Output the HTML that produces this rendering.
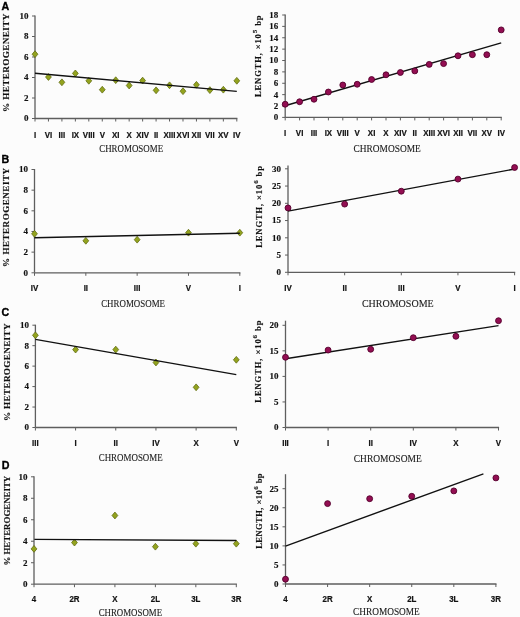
<!DOCTYPE html><html><head><meta charset="utf-8"><style>html,body{margin:0;padding:0;background:#fcfcfc;}svg{display:block;will-change:transform;filter:blur(0.3px);}</style></head><body>
<svg width="520" height="617" viewBox="0 0 520 617">
<rect width="520" height="617" fill="#fcfcfc"/>
<g><line x1="35" y1="15.5" x2="35" y2="118.5" stroke="#5e5e5e" stroke-width="1.3"/><line x1="35" y1="118.5" x2="237.4" y2="118.5" stroke="#5e5e5e" stroke-width="1.3"/><line x1="32" y1="118.5" x2="35" y2="118.5" stroke="#5e5e5e" stroke-width="1"/><text x="28.5" y="121.4" class="yt">0</text><line x1="32" y1="98" x2="35" y2="98" stroke="#5e5e5e" stroke-width="1"/><text x="28.5" y="100.9" class="yt">2</text><line x1="32" y1="77.5" x2="35" y2="77.5" stroke="#5e5e5e" stroke-width="1"/><text x="28.5" y="80.4" class="yt">4</text><line x1="32" y1="57" x2="35" y2="57" stroke="#5e5e5e" stroke-width="1"/><text x="28.5" y="59.9" class="yt">6</text><line x1="32" y1="36.5" x2="35" y2="36.5" stroke="#5e5e5e" stroke-width="1"/><text x="28.5" y="39.4" class="yt">8</text><line x1="32" y1="16" x2="35" y2="16" stroke="#5e5e5e" stroke-width="1"/><text x="28.5" y="18.9" class="yt">10</text><line x1="35" y1="118.5" x2="35" y2="121.5" stroke="#5e5e5e" stroke-width="1"/><text transform="translate(35 137.6) scale(0.89 1)" class="xt">I</text><line x1="48.45" y1="118.5" x2="48.45" y2="121.5" stroke="#5e5e5e" stroke-width="1"/><text transform="translate(48.45 137.6) scale(0.89 1)" class="xt">VI</text><line x1="61.91" y1="118.5" x2="61.91" y2="121.5" stroke="#5e5e5e" stroke-width="1"/><text transform="translate(61.91 137.6) scale(0.89 1)" class="xt">III</text><line x1="75.36" y1="118.5" x2="75.36" y2="121.5" stroke="#5e5e5e" stroke-width="1"/><text transform="translate(75.36 137.6) scale(0.89 1)" class="xt">IX</text><line x1="88.81" y1="118.5" x2="88.81" y2="121.5" stroke="#5e5e5e" stroke-width="1"/><text transform="translate(88.81 137.6) scale(0.89 1)" class="xt">VIII</text><line x1="102.27" y1="118.5" x2="102.27" y2="121.5" stroke="#5e5e5e" stroke-width="1"/><text transform="translate(102.27 137.6) scale(0.89 1)" class="xt">V</text><line x1="115.72" y1="118.5" x2="115.72" y2="121.5" stroke="#5e5e5e" stroke-width="1"/><text transform="translate(115.72 137.6) scale(0.89 1)" class="xt">XI</text><line x1="129.17" y1="118.5" x2="129.17" y2="121.5" stroke="#5e5e5e" stroke-width="1"/><text transform="translate(129.17 137.6) scale(0.89 1)" class="xt">X</text><line x1="142.63" y1="118.5" x2="142.63" y2="121.5" stroke="#5e5e5e" stroke-width="1"/><text transform="translate(142.63 137.6) scale(0.89 1)" class="xt">XIV</text><line x1="156.08" y1="118.5" x2="156.08" y2="121.5" stroke="#5e5e5e" stroke-width="1"/><text transform="translate(156.08 137.6) scale(0.89 1)" class="xt">II</text><line x1="169.53" y1="118.5" x2="169.53" y2="121.5" stroke="#5e5e5e" stroke-width="1"/><text transform="translate(169.53 137.6) scale(0.89 1)" class="xt">XIII</text><line x1="182.99" y1="118.5" x2="182.99" y2="121.5" stroke="#5e5e5e" stroke-width="1"/><text transform="translate(182.99 137.6) scale(0.89 1)" class="xt">XVI</text><line x1="196.44" y1="118.5" x2="196.44" y2="121.5" stroke="#5e5e5e" stroke-width="1"/><text transform="translate(196.44 137.6) scale(0.89 1)" class="xt">XII</text><line x1="209.89" y1="118.5" x2="209.89" y2="121.5" stroke="#5e5e5e" stroke-width="1"/><text transform="translate(209.89 137.6) scale(0.89 1)" class="xt">VII</text><line x1="223.35" y1="118.5" x2="223.35" y2="121.5" stroke="#5e5e5e" stroke-width="1"/><text transform="translate(223.35 137.6) scale(0.89 1)" class="xt">XV</text><line x1="236.8" y1="118.5" x2="236.8" y2="121.5" stroke="#5e5e5e" stroke-width="1"/><text transform="translate(236.8 137.6) scale(0.89 1)" class="xt">IV</text><path d="M35 50.8L37.9 54.2L35 57.6L32.1 54.2Z" fill="#93a31e" stroke="#626d12" stroke-width="0.8"/><path d="M48.45 73.6L51.35 77L48.45 80.4L45.55 77Z" fill="#93a31e" stroke="#626d12" stroke-width="0.8"/><path d="M61.91 78.9L64.81 82.3L61.91 85.7L59.01 82.3Z" fill="#93a31e" stroke="#626d12" stroke-width="0.8"/><path d="M75.36 70L78.26 73.4L75.36 76.8L72.46 73.4Z" fill="#93a31e" stroke="#626d12" stroke-width="0.8"/><path d="M88.81 77.4L91.71 80.8L88.81 84.2L85.91 80.8Z" fill="#93a31e" stroke="#626d12" stroke-width="0.8"/><path d="M102.27 86.3L105.17 89.7L102.27 93.1L99.37 89.7Z" fill="#93a31e" stroke="#626d12" stroke-width="0.8"/><path d="M115.72 76.8L118.62 80.2L115.72 83.6L112.82 80.2Z" fill="#93a31e" stroke="#626d12" stroke-width="0.8"/><path d="M129.17 82.1L132.07 85.5L129.17 88.9L126.27 85.5Z" fill="#93a31e" stroke="#626d12" stroke-width="0.8"/><path d="M142.63 77.2L145.53 80.6L142.63 84L139.73 80.6Z" fill="#93a31e" stroke="#626d12" stroke-width="0.8"/><path d="M156.08 86.9L158.98 90.3L156.08 93.7L153.18 90.3Z" fill="#93a31e" stroke="#626d12" stroke-width="0.8"/><path d="M169.53 81.9L172.43 85.3L169.53 88.7L166.63 85.3Z" fill="#93a31e" stroke="#626d12" stroke-width="0.8"/><path d="M182.99 87.8L185.89 91.2L182.99 94.6L180.09 91.2Z" fill="#93a31e" stroke="#626d12" stroke-width="0.8"/><path d="M196.44 81.4L199.34 84.8L196.44 88.2L193.54 84.8Z" fill="#93a31e" stroke="#626d12" stroke-width="0.8"/><path d="M209.89 86.7L212.79 90.1L209.89 93.5L206.99 90.1Z" fill="#93a31e" stroke="#626d12" stroke-width="0.8"/><path d="M223.35 86.3L226.25 89.7L223.35 93.1L220.45 89.7Z" fill="#93a31e" stroke="#626d12" stroke-width="0.8"/><path d="M236.8 77.4L239.7 80.8L236.8 84.2L233.9 80.8Z" fill="#93a31e" stroke="#626d12" stroke-width="0.8"/><line x1="35" y1="73.2" x2="236.8" y2="91.4" stroke="#111" stroke-width="1.4"/><text x="99.2" y="152.2" class="ch" textLength="63.9" lengthAdjust="spacingAndGlyphs">CHROMOSOME</text><text transform="translate(9.2,111.9) rotate(-90)" class="yl" style="font-size:9.2px" textLength="98.2" lengthAdjust="spacing">% HETEROGENEITY</text><text x="1.6" y="9.7" class="lt">A</text></g>
<g><line x1="285.2" y1="14.6" x2="285.2" y2="117.4" stroke="#5e5e5e" stroke-width="1.3"/><line x1="285.2" y1="117.4" x2="501.8" y2="117.4" stroke="#5e5e5e" stroke-width="1.3"/><line x1="282.2" y1="117.4" x2="285.2" y2="117.4" stroke="#5e5e5e" stroke-width="1"/><text x="278.2" y="120.3" class="yt">0</text><line x1="282.2" y1="106.02" x2="285.2" y2="106.02" stroke="#5e5e5e" stroke-width="1"/><text x="278.2" y="108.92" class="yt">2</text><line x1="282.2" y1="94.64" x2="285.2" y2="94.64" stroke="#5e5e5e" stroke-width="1"/><text x="278.2" y="97.54" class="yt">4</text><line x1="282.2" y1="83.27" x2="285.2" y2="83.27" stroke="#5e5e5e" stroke-width="1"/><text x="278.2" y="86.17" class="yt">6</text><line x1="282.2" y1="71.89" x2="285.2" y2="71.89" stroke="#5e5e5e" stroke-width="1"/><text x="278.2" y="74.79" class="yt">8</text><line x1="282.2" y1="60.51" x2="285.2" y2="60.51" stroke="#5e5e5e" stroke-width="1"/><text x="278.2" y="63.41" class="yt">10</text><line x1="282.2" y1="49.13" x2="285.2" y2="49.13" stroke="#5e5e5e" stroke-width="1"/><text x="278.2" y="52.03" class="yt">12</text><line x1="282.2" y1="37.76" x2="285.2" y2="37.76" stroke="#5e5e5e" stroke-width="1"/><text x="278.2" y="40.66" class="yt">14</text><line x1="282.2" y1="26.38" x2="285.2" y2="26.38" stroke="#5e5e5e" stroke-width="1"/><text x="278.2" y="29.28" class="yt">16</text><line x1="282.2" y1="15" x2="285.2" y2="15" stroke="#5e5e5e" stroke-width="1"/><text x="278.2" y="17.9" class="yt">18</text><line x1="285.2" y1="117.4" x2="285.2" y2="120.4" stroke="#5e5e5e" stroke-width="1"/><text transform="translate(285.2 135.7) scale(0.89 1)" class="xt">I</text><line x1="299.6" y1="117.4" x2="299.6" y2="120.4" stroke="#5e5e5e" stroke-width="1"/><text transform="translate(299.6 135.7) scale(0.89 1)" class="xt">VI</text><line x1="314" y1="117.4" x2="314" y2="120.4" stroke="#5e5e5e" stroke-width="1"/><text transform="translate(314 135.7) scale(0.89 1)" class="xt">III</text><line x1="328.4" y1="117.4" x2="328.4" y2="120.4" stroke="#5e5e5e" stroke-width="1"/><text transform="translate(328.4 135.7) scale(0.89 1)" class="xt">IX</text><line x1="342.8" y1="117.4" x2="342.8" y2="120.4" stroke="#5e5e5e" stroke-width="1"/><text transform="translate(342.8 135.7) scale(0.89 1)" class="xt">VIII</text><line x1="357.2" y1="117.4" x2="357.2" y2="120.4" stroke="#5e5e5e" stroke-width="1"/><text transform="translate(357.2 135.7) scale(0.89 1)" class="xt">V</text><line x1="371.6" y1="117.4" x2="371.6" y2="120.4" stroke="#5e5e5e" stroke-width="1"/><text transform="translate(371.6 135.7) scale(0.89 1)" class="xt">XI</text><line x1="386" y1="117.4" x2="386" y2="120.4" stroke="#5e5e5e" stroke-width="1"/><text transform="translate(386 135.7) scale(0.89 1)" class="xt">X</text><line x1="400.4" y1="117.4" x2="400.4" y2="120.4" stroke="#5e5e5e" stroke-width="1"/><text transform="translate(400.4 135.7) scale(0.89 1)" class="xt">XIV</text><line x1="414.8" y1="117.4" x2="414.8" y2="120.4" stroke="#5e5e5e" stroke-width="1"/><text transform="translate(414.8 135.7) scale(0.89 1)" class="xt">II</text><line x1="429.2" y1="117.4" x2="429.2" y2="120.4" stroke="#5e5e5e" stroke-width="1"/><text transform="translate(429.2 135.7) scale(0.89 1)" class="xt">XIII</text><line x1="443.6" y1="117.4" x2="443.6" y2="120.4" stroke="#5e5e5e" stroke-width="1"/><text transform="translate(443.6 135.7) scale(0.89 1)" class="xt">XVI</text><line x1="458" y1="117.4" x2="458" y2="120.4" stroke="#5e5e5e" stroke-width="1"/><text transform="translate(458 135.7) scale(0.89 1)" class="xt">XII</text><line x1="472.4" y1="117.4" x2="472.4" y2="120.4" stroke="#5e5e5e" stroke-width="1"/><text transform="translate(472.4 135.7) scale(0.89 1)" class="xt">VII</text><line x1="486.8" y1="117.4" x2="486.8" y2="120.4" stroke="#5e5e5e" stroke-width="1"/><text transform="translate(486.8 135.7) scale(0.89 1)" class="xt">XV</text><line x1="501.2" y1="117.4" x2="501.2" y2="120.4" stroke="#5e5e5e" stroke-width="1"/><text transform="translate(501.2 135.7) scale(0.89 1)" class="xt">IV</text><line x1="285" y1="105.75" x2="501.2" y2="42.8" stroke="#111" stroke-width="1.4"/><circle cx="285.2" cy="104.25" r="2.95" fill="#930e52" stroke="#55002c" stroke-width="0.9"/><circle cx="299.6" cy="101.75" r="2.95" fill="#930e52" stroke="#55002c" stroke-width="0.9"/><circle cx="314" cy="99.25" r="2.95" fill="#930e52" stroke="#55002c" stroke-width="0.9"/><circle cx="328.4" cy="92" r="2.95" fill="#930e52" stroke="#55002c" stroke-width="0.9"/><circle cx="342.8" cy="85" r="2.95" fill="#930e52" stroke="#55002c" stroke-width="0.9"/><circle cx="357.2" cy="84.25" r="2.95" fill="#930e52" stroke="#55002c" stroke-width="0.9"/><circle cx="371.6" cy="79.5" r="2.95" fill="#930e52" stroke="#55002c" stroke-width="0.9"/><circle cx="386" cy="74.8" r="2.95" fill="#930e52" stroke="#55002c" stroke-width="0.9"/><circle cx="400.4" cy="72.5" r="2.95" fill="#930e52" stroke="#55002c" stroke-width="0.9"/><circle cx="414.8" cy="70.9" r="2.95" fill="#930e52" stroke="#55002c" stroke-width="0.9"/><circle cx="429.2" cy="64.4" r="2.95" fill="#930e52" stroke="#55002c" stroke-width="0.9"/><circle cx="443.6" cy="63.6" r="2.95" fill="#930e52" stroke="#55002c" stroke-width="0.9"/><circle cx="458" cy="55.8" r="2.95" fill="#930e52" stroke="#55002c" stroke-width="0.9"/><circle cx="472.4" cy="54.7" r="2.95" fill="#930e52" stroke="#55002c" stroke-width="0.9"/><circle cx="486.8" cy="54.7" r="2.95" fill="#930e52" stroke="#55002c" stroke-width="0.9"/><circle cx="501.2" cy="29.9" r="2.95" fill="#930e52" stroke="#55002c" stroke-width="0.9"/><text x="353.5" y="152.2" class="ch" textLength="67.3" lengthAdjust="spacingAndGlyphs">CHROMOSOME</text><text transform="translate(261,97) rotate(-90)" class="yl yr" textLength="81.5" lengthAdjust="spacing">LENGTH, ×10<tspan class="sup" dy="-4">5</tspan><tspan dy="4"> bp</tspan></text></g>
<g><line x1="34.5" y1="169" x2="34.5" y2="272.8" stroke="#5e5e5e" stroke-width="1.3"/><line x1="34.5" y1="272.8" x2="240.4" y2="272.8" stroke="#5e5e5e" stroke-width="1.3"/><line x1="31.5" y1="272.8" x2="34.5" y2="272.8" stroke="#5e5e5e" stroke-width="1"/><text x="28" y="275.7" class="yt">0</text><line x1="31.5" y1="252.14" x2="34.5" y2="252.14" stroke="#5e5e5e" stroke-width="1"/><text x="28" y="255.04" class="yt">2</text><line x1="31.5" y1="231.48" x2="34.5" y2="231.48" stroke="#5e5e5e" stroke-width="1"/><text x="28" y="234.38" class="yt">4</text><line x1="31.5" y1="210.82" x2="34.5" y2="210.82" stroke="#5e5e5e" stroke-width="1"/><text x="28" y="213.72" class="yt">6</text><line x1="31.5" y1="190.16" x2="34.5" y2="190.16" stroke="#5e5e5e" stroke-width="1"/><text x="28" y="193.06" class="yt">8</text><line x1="31.5" y1="169.5" x2="34.5" y2="169.5" stroke="#5e5e5e" stroke-width="1"/><text x="28" y="172.4" class="yt">10</text><line x1="34.5" y1="272.8" x2="34.5" y2="275.8" stroke="#5e5e5e" stroke-width="1"/><text transform="translate(34.5 290.8) scale(0.89 1)" class="xt">IV</text><line x1="85.83" y1="272.8" x2="85.83" y2="275.8" stroke="#5e5e5e" stroke-width="1"/><text transform="translate(85.83 290.8) scale(0.89 1)" class="xt">II</text><line x1="137.15" y1="272.8" x2="137.15" y2="275.8" stroke="#5e5e5e" stroke-width="1"/><text transform="translate(137.15 290.8) scale(0.89 1)" class="xt">III</text><line x1="188.48" y1="272.8" x2="188.48" y2="275.8" stroke="#5e5e5e" stroke-width="1"/><text transform="translate(188.48 290.8) scale(0.89 1)" class="xt">V</text><line x1="239.8" y1="272.8" x2="239.8" y2="275.8" stroke="#5e5e5e" stroke-width="1"/><text transform="translate(239.8 290.8) scale(0.89 1)" class="xt">I</text><path d="M34.5 230.4L37.4 233.8L34.5 237.2L31.6 233.8Z" fill="#93a31e" stroke="#626d12" stroke-width="0.8"/><path d="M85.83 237.4L88.73 240.8L85.83 244.2L82.92 240.8Z" fill="#93a31e" stroke="#626d12" stroke-width="0.8"/><path d="M137.15 236.3L140.05 239.7L137.15 243.1L134.25 239.7Z" fill="#93a31e" stroke="#626d12" stroke-width="0.8"/><path d="M188.48 229.3L191.38 232.7L188.48 236.1L185.58 232.7Z" fill="#93a31e" stroke="#626d12" stroke-width="0.8"/><path d="M239.8 229.3L242.7 232.7L239.8 236.1L236.9 232.7Z" fill="#93a31e" stroke="#626d12" stroke-width="0.8"/><line x1="34.5" y1="237.7" x2="239.8" y2="233.2" stroke="#111" stroke-width="1.4"/><text x="101.2" y="306.6" class="ch" textLength="63.8" lengthAdjust="spacingAndGlyphs">CHROMOSOME</text><text transform="translate(9,266.9) rotate(-90)" class="yl" style="font-size:9.0px" textLength="98.9" lengthAdjust="spacing">% HETEROGENEITY</text><text x="1.6" y="162.8" class="lt">B</text></g>
<g><line x1="288" y1="165.5" x2="288" y2="272.3" stroke="#5e5e5e" stroke-width="1.3"/><line x1="288" y1="272.3" x2="515.2" y2="272.3" stroke="#5e5e5e" stroke-width="1.3"/><line x1="285" y1="272.3" x2="288" y2="272.3" stroke="#5e5e5e" stroke-width="1"/><text x="281" y="275.2" class="yt">0</text><line x1="285" y1="255.05" x2="288" y2="255.05" stroke="#5e5e5e" stroke-width="1"/><text x="281" y="257.95" class="yt">5</text><line x1="285" y1="237.8" x2="288" y2="237.8" stroke="#5e5e5e" stroke-width="1"/><text x="281" y="240.7" class="yt">10</text><line x1="285" y1="220.55" x2="288" y2="220.55" stroke="#5e5e5e" stroke-width="1"/><text x="281" y="223.45" class="yt">15</text><line x1="285" y1="203.3" x2="288" y2="203.3" stroke="#5e5e5e" stroke-width="1"/><text x="281" y="206.2" class="yt">20</text><line x1="285" y1="186.05" x2="288" y2="186.05" stroke="#5e5e5e" stroke-width="1"/><text x="281" y="188.95" class="yt">25</text><line x1="285" y1="168.8" x2="288" y2="168.8" stroke="#5e5e5e" stroke-width="1"/><text x="281" y="171.7" class="yt">30</text><line x1="288" y1="272.3" x2="288" y2="275.3" stroke="#5e5e5e" stroke-width="1"/><text transform="translate(288 291.2) scale(0.89 1)" class="xt">IV</text><line x1="344.65" y1="272.3" x2="344.65" y2="275.3" stroke="#5e5e5e" stroke-width="1"/><text transform="translate(344.65 291.2) scale(0.89 1)" class="xt">II</text><line x1="401.3" y1="272.3" x2="401.3" y2="275.3" stroke="#5e5e5e" stroke-width="1"/><text transform="translate(401.3 291.2) scale(0.89 1)" class="xt">III</text><line x1="457.95" y1="272.3" x2="457.95" y2="275.3" stroke="#5e5e5e" stroke-width="1"/><text transform="translate(457.95 291.2) scale(0.89 1)" class="xt">V</text><line x1="514.6" y1="272.3" x2="514.6" y2="275.3" stroke="#5e5e5e" stroke-width="1"/><text transform="translate(514.6 291.2) scale(0.89 1)" class="xt">I</text><line x1="288" y1="211.1" x2="514.6" y2="169" stroke="#111" stroke-width="1.4"/><circle cx="288" cy="207.9" r="2.95" fill="#930e52" stroke="#55002c" stroke-width="0.9"/><circle cx="344.65" cy="204.1" r="2.95" fill="#930e52" stroke="#55002c" stroke-width="0.9"/><circle cx="401.3" cy="191.2" r="2.95" fill="#930e52" stroke="#55002c" stroke-width="0.9"/><circle cx="457.95" cy="179.1" r="2.95" fill="#930e52" stroke="#55002c" stroke-width="0.9"/><circle cx="514.6" cy="167.5" r="2.95" fill="#930e52" stroke="#55002c" stroke-width="0.9"/><text x="361.9" y="307.2" class="ch" textLength="71.8" lengthAdjust="spacingAndGlyphs">CHROMOSOME</text><text transform="translate(262,247.8) rotate(-90)" class="yl yr" textLength="81.8" lengthAdjust="spacing">LENGTH, ×10<tspan class="sup" dy="-4">6</tspan><tspan dy="4"> bp</tspan></text></g>
<g><line x1="35.4" y1="324.7" x2="35.4" y2="427.5" stroke="#5e5e5e" stroke-width="1.3"/><line x1="35.4" y1="427.5" x2="236.9" y2="427.5" stroke="#5e5e5e" stroke-width="1.3"/><line x1="32.4" y1="427.5" x2="35.4" y2="427.5" stroke="#5e5e5e" stroke-width="1"/><text x="28.9" y="430.4" class="yt">0</text><line x1="32.4" y1="407.04" x2="35.4" y2="407.04" stroke="#5e5e5e" stroke-width="1"/><text x="28.9" y="409.94" class="yt">2</text><line x1="32.4" y1="386.58" x2="35.4" y2="386.58" stroke="#5e5e5e" stroke-width="1"/><text x="28.9" y="389.48" class="yt">4</text><line x1="32.4" y1="366.12" x2="35.4" y2="366.12" stroke="#5e5e5e" stroke-width="1"/><text x="28.9" y="369.02" class="yt">6</text><line x1="32.4" y1="345.66" x2="35.4" y2="345.66" stroke="#5e5e5e" stroke-width="1"/><text x="28.9" y="348.56" class="yt">8</text><line x1="32.4" y1="325.2" x2="35.4" y2="325.2" stroke="#5e5e5e" stroke-width="1"/><text x="28.9" y="328.1" class="yt">10</text><line x1="35.4" y1="427.5" x2="35.4" y2="430.5" stroke="#5e5e5e" stroke-width="1"/><text transform="translate(35.4 446) scale(0.89 1)" class="xt">III</text><line x1="75.58" y1="427.5" x2="75.58" y2="430.5" stroke="#5e5e5e" stroke-width="1"/><text transform="translate(75.58 446) scale(0.89 1)" class="xt">I</text><line x1="115.76" y1="427.5" x2="115.76" y2="430.5" stroke="#5e5e5e" stroke-width="1"/><text transform="translate(115.76 446) scale(0.89 1)" class="xt">II</text><line x1="155.94" y1="427.5" x2="155.94" y2="430.5" stroke="#5e5e5e" stroke-width="1"/><text transform="translate(155.94 446) scale(0.89 1)" class="xt">IV</text><line x1="196.12" y1="427.5" x2="196.12" y2="430.5" stroke="#5e5e5e" stroke-width="1"/><text transform="translate(196.12 446) scale(0.89 1)" class="xt">X</text><line x1="236.3" y1="427.5" x2="236.3" y2="430.5" stroke="#5e5e5e" stroke-width="1"/><text transform="translate(236.3 446) scale(0.89 1)" class="xt">V</text><path d="M35.4 331.9L38.3 335.3L35.4 338.7L32.5 335.3Z" fill="#93a31e" stroke="#626d12" stroke-width="0.8"/><path d="M75.58 346.2L78.48 349.6L75.58 353L72.68 349.6Z" fill="#93a31e" stroke="#626d12" stroke-width="0.8"/><path d="M115.76 346.2L118.66 349.6L115.76 353L112.86 349.6Z" fill="#93a31e" stroke="#626d12" stroke-width="0.8"/><path d="M155.94 359.1L158.84 362.5L155.94 365.9L153.04 362.5Z" fill="#93a31e" stroke="#626d12" stroke-width="0.8"/><path d="M196.12 383.9L199.02 387.3L196.12 390.7L193.22 387.3Z" fill="#93a31e" stroke="#626d12" stroke-width="0.8"/><path d="M236.3 356.4L239.2 359.8L236.3 363.2L233.4 359.8Z" fill="#93a31e" stroke="#626d12" stroke-width="0.8"/><line x1="35.4" y1="339.4" x2="236.3" y2="374.6" stroke="#111" stroke-width="1.4"/><text x="98.7" y="460.8" class="ch" textLength="64" lengthAdjust="spacingAndGlyphs">CHROMOSOME</text><text transform="translate(9.7,421) rotate(-90)" class="yl" style="font-size:9.2px" textLength="97.6" lengthAdjust="spacing">% HETEROGENEITY</text><text x="1.4" y="316.3" class="lt">C</text></g>
<g><line x1="285.5" y1="320.7" x2="285.5" y2="427.5" stroke="#5e5e5e" stroke-width="1.3"/><line x1="285.5" y1="427.5" x2="499.1" y2="427.5" stroke="#5e5e5e" stroke-width="1.3"/><line x1="282.5" y1="427.5" x2="285.5" y2="427.5" stroke="#5e5e5e" stroke-width="1"/><text x="278.5" y="430.4" class="yt">0</text><line x1="282.5" y1="401.95" x2="285.5" y2="401.95" stroke="#5e5e5e" stroke-width="1"/><text x="278.5" y="404.85" class="yt">5</text><line x1="282.5" y1="376.4" x2="285.5" y2="376.4" stroke="#5e5e5e" stroke-width="1"/><text x="278.5" y="379.3" class="yt">10</text><line x1="282.5" y1="350.85" x2="285.5" y2="350.85" stroke="#5e5e5e" stroke-width="1"/><text x="278.5" y="353.75" class="yt">15</text><line x1="282.5" y1="325.3" x2="285.5" y2="325.3" stroke="#5e5e5e" stroke-width="1"/><text x="278.5" y="328.2" class="yt">20</text><line x1="285.5" y1="427.5" x2="285.5" y2="430.5" stroke="#5e5e5e" stroke-width="1"/><text transform="translate(285.5 446) scale(0.89 1)" class="xt">III</text><line x1="328.1" y1="427.5" x2="328.1" y2="430.5" stroke="#5e5e5e" stroke-width="1"/><text transform="translate(328.1 446) scale(0.89 1)" class="xt">I</text><line x1="370.7" y1="427.5" x2="370.7" y2="430.5" stroke="#5e5e5e" stroke-width="1"/><text transform="translate(370.7 446) scale(0.89 1)" class="xt">II</text><line x1="413.3" y1="427.5" x2="413.3" y2="430.5" stroke="#5e5e5e" stroke-width="1"/><text transform="translate(413.3 446) scale(0.89 1)" class="xt">IV</text><line x1="455.9" y1="427.5" x2="455.9" y2="430.5" stroke="#5e5e5e" stroke-width="1"/><text transform="translate(455.9 446) scale(0.89 1)" class="xt">X</text><line x1="498.5" y1="427.5" x2="498.5" y2="430.5" stroke="#5e5e5e" stroke-width="1"/><text transform="translate(498.5 446) scale(0.89 1)" class="xt">V</text><line x1="285.5" y1="358.7" x2="498.5" y2="325.6" stroke="#111" stroke-width="1.4"/><circle cx="285.5" cy="357.3" r="2.95" fill="#930e52" stroke="#55002c" stroke-width="0.9"/><circle cx="328.1" cy="350.1" r="2.95" fill="#930e52" stroke="#55002c" stroke-width="0.9"/><circle cx="370.7" cy="349.3" r="2.95" fill="#930e52" stroke="#55002c" stroke-width="0.9"/><circle cx="413.3" cy="337.7" r="2.95" fill="#930e52" stroke="#55002c" stroke-width="0.9"/><circle cx="455.9" cy="336.3" r="2.95" fill="#930e52" stroke="#55002c" stroke-width="0.9"/><circle cx="498.5" cy="320.7" r="2.95" fill="#930e52" stroke="#55002c" stroke-width="0.9"/><text x="353.8" y="461.6" class="ch" textLength="67.9" lengthAdjust="spacingAndGlyphs">CHROMOSOME</text><text transform="translate(260.8,402.7) rotate(-90)" class="yl yr" textLength="82.2" lengthAdjust="spacing">LENGTH, ×10<tspan class="sup" dy="-4">6</tspan><tspan dy="4"> bp</tspan></text></g>
<g><line x1="34" y1="476.3" x2="34" y2="584.2" stroke="#5e5e5e" stroke-width="1.3"/><line x1="34" y1="584.2" x2="236.9" y2="584.2" stroke="#5e5e5e" stroke-width="1.3"/><line x1="31" y1="584.2" x2="34" y2="584.2" stroke="#5e5e5e" stroke-width="1"/><text x="27.5" y="587.1" class="yt">0</text><line x1="31" y1="562.72" x2="34" y2="562.72" stroke="#5e5e5e" stroke-width="1"/><text x="27.5" y="565.62" class="yt">2</text><line x1="31" y1="541.24" x2="34" y2="541.24" stroke="#5e5e5e" stroke-width="1"/><text x="27.5" y="544.14" class="yt">4</text><line x1="31" y1="519.76" x2="34" y2="519.76" stroke="#5e5e5e" stroke-width="1"/><text x="27.5" y="522.66" class="yt">6</text><line x1="31" y1="498.28" x2="34" y2="498.28" stroke="#5e5e5e" stroke-width="1"/><text x="27.5" y="501.18" class="yt">8</text><line x1="31" y1="476.8" x2="34" y2="476.8" stroke="#5e5e5e" stroke-width="1"/><text x="27.5" y="479.7" class="yt">10</text><line x1="34" y1="584.2" x2="34" y2="587.2" stroke="#5e5e5e" stroke-width="1"/><text transform="translate(34 601.8) scale(0.89 1)" class="xt">4</text><line x1="74.46" y1="584.2" x2="74.46" y2="587.2" stroke="#5e5e5e" stroke-width="1"/><text transform="translate(74.46 601.8) scale(0.89 1)" class="xt">2R</text><line x1="114.92" y1="584.2" x2="114.92" y2="587.2" stroke="#5e5e5e" stroke-width="1"/><text transform="translate(114.92 601.8) scale(0.89 1)" class="xt">X</text><line x1="155.38" y1="584.2" x2="155.38" y2="587.2" stroke="#5e5e5e" stroke-width="1"/><text transform="translate(155.38 601.8) scale(0.89 1)" class="xt">2L</text><line x1="195.84" y1="584.2" x2="195.84" y2="587.2" stroke="#5e5e5e" stroke-width="1"/><text transform="translate(195.84 601.8) scale(0.89 1)" class="xt">3L</text><line x1="236.3" y1="584.2" x2="236.3" y2="587.2" stroke="#5e5e5e" stroke-width="1"/><text transform="translate(236.3 601.8) scale(0.89 1)" class="xt">3R</text><path d="M34 545.5L36.9 548.9L34 552.3L31.1 548.9Z" fill="#93a31e" stroke="#626d12" stroke-width="0.8"/><path d="M74.46 539.2L77.36 542.6L74.46 546L71.56 542.6Z" fill="#93a31e" stroke="#626d12" stroke-width="0.8"/><path d="M114.92 512.1L117.82 515.5L114.92 518.9L112.02 515.5Z" fill="#93a31e" stroke="#626d12" stroke-width="0.8"/><path d="M155.38 543.3L158.28 546.7L155.38 550.1L152.48 546.7Z" fill="#93a31e" stroke="#626d12" stroke-width="0.8"/><path d="M195.84 540.3L198.74 543.7L195.84 547.1L192.94 543.7Z" fill="#93a31e" stroke="#626d12" stroke-width="0.8"/><path d="M236.3 540.3L239.2 543.7L236.3 547.1L233.4 543.7Z" fill="#93a31e" stroke="#626d12" stroke-width="0.8"/><line x1="34.4" y1="539.4" x2="236.3" y2="540.5" stroke="#111" stroke-width="1.4"/><text x="98.7" y="615.6" class="ch" textLength="63.4" lengthAdjust="spacingAndGlyphs">CHROMOSOME</text><text transform="translate(9.7,565.6) rotate(-90)" class="yl" style="font-size:8.9px" textLength="89.9" lengthAdjust="spacing">% HETEROGENEITY</text><text x="1.7" y="469.2" class="lt">D</text></g>
<g><line x1="285.5" y1="474.2" x2="285.5" y2="584" stroke="#5e5e5e" stroke-width="1.3"/><line x1="285.5" y1="584" x2="496.5" y2="584" stroke="#5e5e5e" stroke-width="1.3"/><line x1="282.5" y1="584" x2="285.5" y2="584" stroke="#5e5e5e" stroke-width="1"/><text x="278.5" y="586.9" class="yt">0</text><line x1="282.5" y1="564.94" x2="285.5" y2="564.94" stroke="#5e5e5e" stroke-width="1"/><text x="278.5" y="567.84" class="yt">5</text><line x1="282.5" y1="545.88" x2="285.5" y2="545.88" stroke="#5e5e5e" stroke-width="1"/><text x="278.5" y="548.78" class="yt">10</text><line x1="282.5" y1="526.82" x2="285.5" y2="526.82" stroke="#5e5e5e" stroke-width="1"/><text x="278.5" y="529.72" class="yt">15</text><line x1="282.5" y1="507.76" x2="285.5" y2="507.76" stroke="#5e5e5e" stroke-width="1"/><text x="278.5" y="510.66" class="yt">20</text><line x1="282.5" y1="488.7" x2="285.5" y2="488.7" stroke="#5e5e5e" stroke-width="1"/><text x="278.5" y="491.6" class="yt">25</text><line x1="285.5" y1="584" x2="285.5" y2="587" stroke="#5e5e5e" stroke-width="1"/><text transform="translate(285.5 601.8) scale(0.89 1)" class="xt">4</text><line x1="327.58" y1="584" x2="327.58" y2="587" stroke="#5e5e5e" stroke-width="1"/><text transform="translate(327.58 601.8) scale(0.89 1)" class="xt">2R</text><line x1="369.66" y1="584" x2="369.66" y2="587" stroke="#5e5e5e" stroke-width="1"/><text transform="translate(369.66 601.8) scale(0.89 1)" class="xt">X</text><line x1="411.74" y1="584" x2="411.74" y2="587" stroke="#5e5e5e" stroke-width="1"/><text transform="translate(411.74 601.8) scale(0.89 1)" class="xt">2L</text><line x1="453.82" y1="584" x2="453.82" y2="587" stroke="#5e5e5e" stroke-width="1"/><text transform="translate(453.82 601.8) scale(0.89 1)" class="xt">3L</text><line x1="495.9" y1="584" x2="495.9" y2="587" stroke="#5e5e5e" stroke-width="1"/><text transform="translate(495.9 601.8) scale(0.89 1)" class="xt">3R</text><line x1="285.5" y1="546.1" x2="483.4" y2="473.8" stroke="#111" stroke-width="1.4"/><circle cx="285.5" cy="579.2" r="2.95" fill="#930e52" stroke="#55002c" stroke-width="0.9"/><circle cx="327.58" cy="503.6" r="2.95" fill="#930e52" stroke="#55002c" stroke-width="0.9"/><circle cx="369.66" cy="498.7" r="2.95" fill="#930e52" stroke="#55002c" stroke-width="0.9"/><circle cx="411.74" cy="496.3" r="2.95" fill="#930e52" stroke="#55002c" stroke-width="0.9"/><circle cx="453.82" cy="490.9" r="2.95" fill="#930e52" stroke="#55002c" stroke-width="0.9"/><circle cx="495.9" cy="477.9" r="2.95" fill="#930e52" stroke="#55002c" stroke-width="0.9"/><text x="353.1" y="615.2" class="ch" textLength="66.7" lengthAdjust="spacingAndGlyphs">CHROMOSOME</text><text transform="translate(261.8,548.8) rotate(-90)" class="yl yr" textLength="75.4" lengthAdjust="spacing">LENGTH, ×10<tspan class="sup" dy="-4">6</tspan><tspan dy="4"> bp</tspan></text></g>
<style>
.yt{font-family:"Liberation Serif",serif;font-weight:bold;font-size:9px;text-anchor:end;fill:#111;stroke:#111;stroke-width:0.15px;}
.xt{font-family:"Liberation Sans",sans-serif;font-weight:bold;font-size:8.9px;text-anchor:middle;fill:#111;stroke:#111;stroke-width:0.2px;}
.ch{font-family:"Liberation Serif",serif;font-size:9.8px;fill:#1a1a1a;stroke:#1a1a1a;stroke-width:0.1px;}
.yl{font-family:"Liberation Serif",serif;font-weight:bold;font-size:8.8px;fill:#111;stroke:#111;stroke-width:0.15px;}
.yr{font-size:8.5px;}
.rg{font-weight:normal;}
.sup{font-size:7px;}
.lt{font-family:"Liberation Sans",sans-serif;font-weight:bold;font-size:10.7px;fill:#000;stroke:#000;stroke-width:0.35px;}
</style>
</svg></body></html>
